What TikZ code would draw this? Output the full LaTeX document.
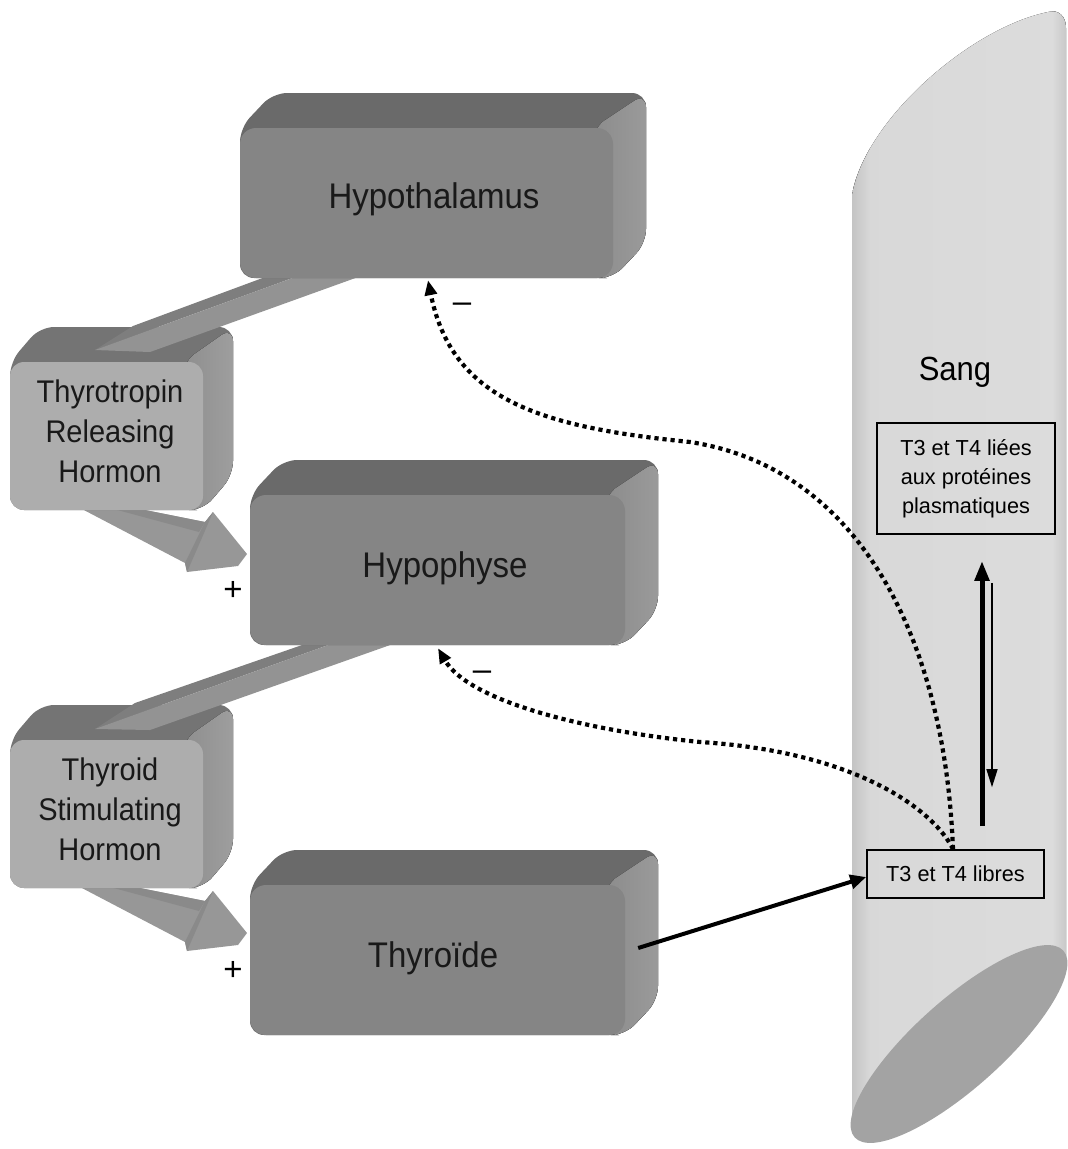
\documentclass[tikz,border=0pt]{standalone}
\usepackage{fontspec}
\setmainfont{Liberation Sans}
\usetikzlibrary{arrows.meta,calc}
\definecolor{btop}{HTML}{6A6A6A}
\definecolor{bsideA}{HTML}{8C8C8C}
\definecolor{bsideB}{HTML}{9A9A9A}
\definecolor{bfront}{HTML}{858585}
\definecolor{stop}{HTML}{747474}
\definecolor{ssideA}{HTML}{8E8E8E}
\definecolor{ssideB}{HTML}{9E9E9E}
\definecolor{sfront}{HTML}{ADADAD}
\definecolor{banddark}{HTML}{7E7E7E}
\definecolor{bandlight}{HTML}{939393}
\definecolor{arrlight}{HTML}{979797}
\definecolor{arrdark}{HTML}{8A8A8A}
\definecolor{vedge}{HTML}{C4C4C4}
\definecolor{vA}{HTML}{D8D8D8}
\definecolor{vB}{HTML}{DFDFDF}
\definecolor{vC}{HTML}{DCDCDC}
\definecolor{vend}{HTML}{A3A3A3}
\newcommand\extrude[7]{%
  \fill[#7top, rounded corners=14pt] (#1,#4) -- (#1,#2) -- ($(#1,#2)+(#5,#6)$) -- ($(#3,#2)+(#5,#6)$) -- ($(#3,#4)+(#5,#6)$) -- (#3,#4) -- cycle;
  \fill[left color=#7sideA, right color=#7sideB, rounded corners=14pt] ($(#3,#2)+(-20,0)$) -- ($(#3,#2)+(#5,#6)$) -- ($(#3,#4)+(#5,#6)$) -- (#3,#4) -- ($(#3,#4)+(-20,0)$) -- cycle;
}
\newcommand\hormarrow{%
  \fill[arrlight] (80,508) -- (135,508) -- (205,522) -- (213,512) -- (247,554) -- (238,566) -- (187,572) -- (185,563) -- cycle;
  \fill[arrdark] (135,508) -- (205,522) -- (199,532) -- (110,508) -- cycle;
  \fill[arrdark] (205,522) -- (213,512) -- (201,540) -- (187,572) -- (185,563) -- cycle;
}
\newcommand\tall[1]{\scalebox{1}[1.08]{#1}}
\tikzset{
  bigface/.style={fill=bfront, rounded corners=16pt, inner sep=0pt, minimum width=375pt, minimum height=150pt},
  smallface/.style={fill=sfront, rounded corners=14pt, inner sep=0pt, minimum width=193pt, minimum height=148pt},
  bigtxt/.style={font=\fontsize{33}{40}\selectfont, inner sep=0pt, anchor=base, text=black!90},
  smalltxt/.style={font=\fontsize{29}{40}\selectfont, align=center, inner sep=0pt, text=black!90},
  labbox/.style={draw, line width=1.6pt, inner sep=0pt, font=\fontsize{21.7}{29}\selectfont, align=center},
  sign/.style={font=\fontsize{33}{36}\selectfont, inner sep=0pt, anchor=base},
  feedback/.style={line width=4.2pt, dash pattern=on 4.2pt off 3.9pt, -{Triangle[length=15pt,width=12pt]}},
}
\begin{document}
\begin{tikzpicture}[x=1pt,y=-1pt]
\useasboundingbox (0,0) rectangle (1068,1149);

% blood vessel
\def\vesselpath{(852,195) .. controls (865,120) and (970,28) .. (1048,12) .. controls (1058,9) and (1066,16) .. (1066,28) -- (1066,958) -- (852,1130) -- cycle}
\fill[left color=vA, middle color=vB, right color=vC] \vesselpath;
\begin{scope}
  \clip \vesselpath;
  \fill[left color=vedge, right color=vA] (852,0) rectangle (870,1149);
  \fill[left color=vC, right color=vedge!95] (1052,0) rectangle (1067,1149);
\end{scope}
\fill[vend, rotate around={41.8:(959,1044)}] (959,1044) ellipse [x radius=140pt, y radius=44pt];

% hormone arrows (behind small boxes)
\hormarrow
\begin{scope}[shift={(0,379)}]
  \hormarrow
\end{scope}

% small boxes
\extrude{10}{362}{203}{510}{30}{-35}{s}
\node[smallface] (trh) at (106.5,436) {};
\extrude{10}{740}{203}{888}{30}{-35}{s}
\node[smallface] (tsh) at (106.5,814) {};

% bands from big boxes to small boxes
\fill[banddark] (268,276) -- (298,276) -- (95,350) -- (133,326) -- cycle;
\fill[bandlight] (298,276) -- (361,276) -- (150,352) -- (95,350) -- cycle;
\fill[banddark] (305,644) -- (331,644) -- (95,729) -- (135,703) -- cycle;
\fill[bandlight] (331,644) -- (393,644) -- (150,730) -- (95,729) -- cycle;

% big boxes
\extrude{240}{128}{613}{278}{33}{-35}{b}
\node[bigface, minimum width=373pt] (hyp) at (426.5,203) {};
\extrude{250}{495}{625}{645}{33}{-35}{b}
\node[bigface] (hph) at (437.5,570) {};
\extrude{250}{885}{625}{1035}{33}{-35}{b}
\node[bigface] (thy) at (437.5,960) {};

% texts
\node[bigtxt] (hyptxt) at (434,208) {\tall{Hypothalamus}};
\node[bigtxt] (hphtxt) at (445,577) {\tall{Hypophyse}};
\node[bigtxt] (thytxt) at (433,967) {\tall{Thyroïde}};
\node[smalltxt] (trhtxt) at (110,431.5) {\tall{Thyrotropin}\\\tall{Releasing}\\\tall{Hormon}};
\node[smalltxt] (tshtxt) at (110,809.5) {\tall{Thyroid}\\\tall{Stimulating}\\\tall{Hormon}};
\node[font=\fontsize{31}{36}\selectfont, inner sep=0pt, anchor=base] (sang) at (955,380) {\tall{Sang}};

\node[sign] (p1) at (233,600) {+};
\node[sign] (p2) at (233,980) {+};
\node[sign] (m1) at (462,312) {–};
\node[sign] (m2) at (482,680) {–};

% T3/T4 boxes
\node[labbox, minimum width=178pt, minimum height=111pt] (lie) at (966,478.5) {T3 et T4 liées\\aux protéines\\plasmatiques};
\node[labbox, minimum width=177pt, minimum height=48pt] (lib) at (955.5,874) {T3 et T4 libres};

% equilibrium arrows
\draw[line width=5pt, -{Triangle[length=20pt,width=14pt]}] ($(lib.north)+(26.5,-23)$) -- ($(lie.south)+(16,26)$);
\draw[line width=1.3pt, -{Triangle[length=18pt,width=11pt]}] ($(lie.south)+(26,48)$) -- ($(lib.north)+(36.5,-62)$);

% secretion
\draw[line width=4pt, -{Triangle[length=16pt,width=14pt]}] ($(thy.east)+(13,-12)$) -- ($(lib.west)+(0,3)$);

% feedback
\draw[feedback] ($(lib.north)+(-2.5,0)$) .. controls (945,640) and (860,468) .. (690,442) .. controls (540,427) and (452,400) .. ($(hyp.south)+(1.5,2)$);
\draw[feedback] ($(lib.north)+(-2.5,0)$) .. controls (935,812) and (860,752) .. (700,742) .. controls (580,730) and (468,700) .. ($(hph.south)+(0.5,3)$);
\end{tikzpicture}
\end{document}
